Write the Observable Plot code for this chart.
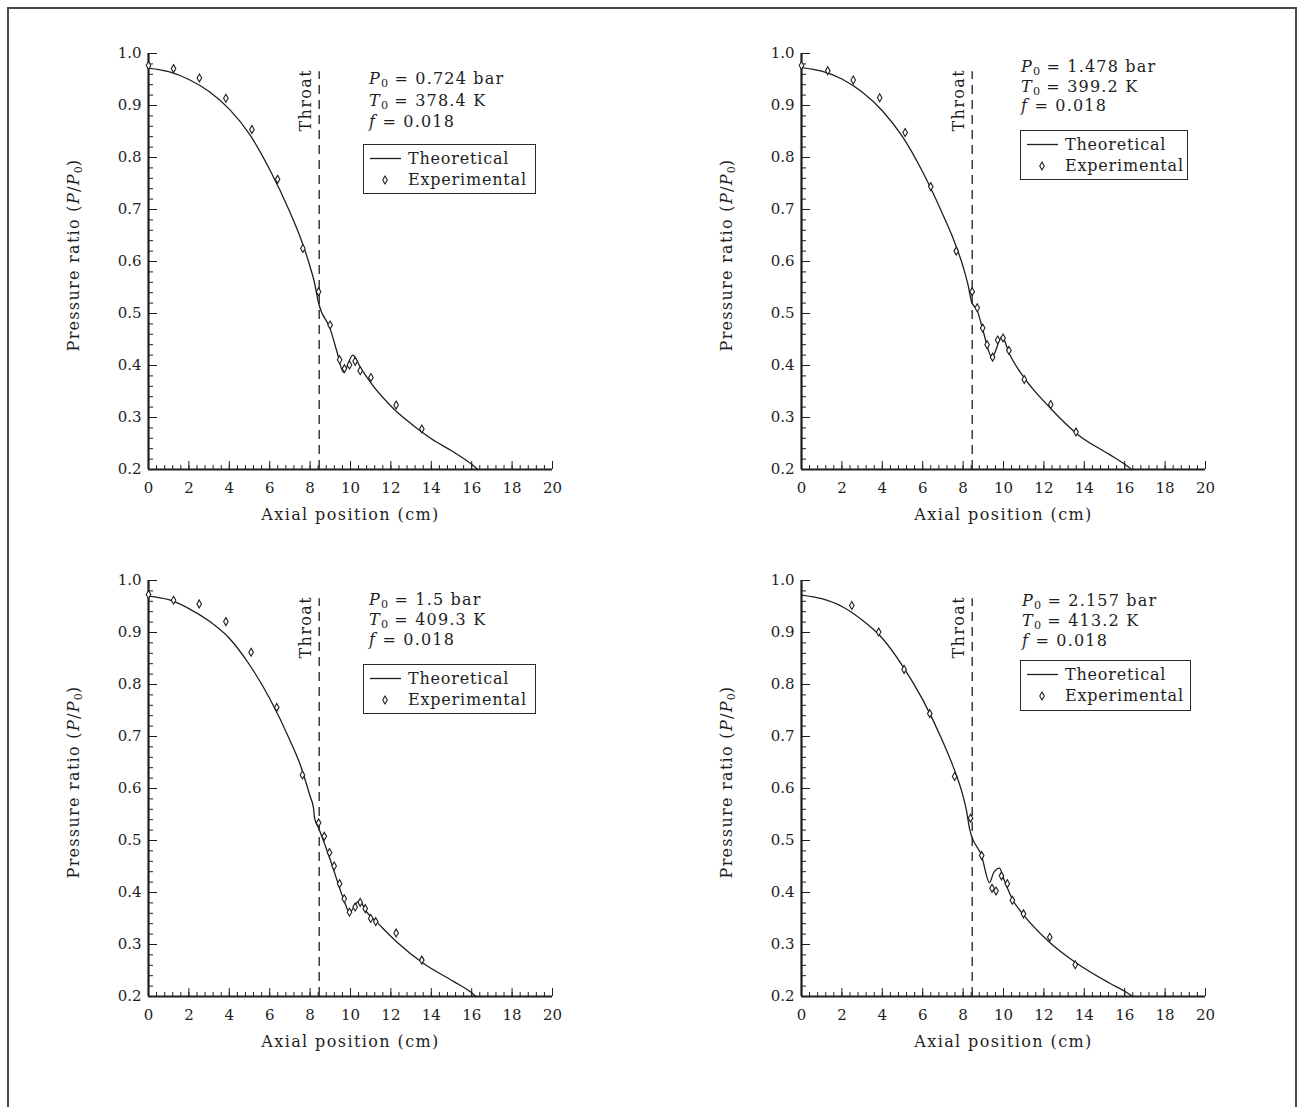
<!DOCTYPE html>
<html>
<head>
<meta charset="utf-8">
<script src="https://cdn.jsdelivr.net/npm/d3@7"></script>
<script src="https://cdn.jsdelivr.net/npm/@observablehq/plot@0.6"></script>
<style>
  html, body { margin: 0; padding: 0; background: #fff; }
  #page { position: relative; width: 1303px; height: 1107px; overflow: hidden; background: #fff;
          font-family: "DejaVu Serif", serif; color: #1e1e1e; }
  #border { position: absolute; left: 7px; top: 7px; width: 1286px; height: 1200px; border: 2px solid #4a4a4a; }
  .panel { position: absolute; }
  .param { position: absolute; font-size: 16px; letter-spacing: 1.2px; white-space: nowrap; line-height: 1; transform: translateY(-50%); }
  .legend { position: absolute; border: 1.5px solid #2a2a2a; background: #fff; box-sizing: border-box; }
  .legend .row { position: absolute; left: 0; font-size: 16px; letter-spacing: 0.8px; white-space: nowrap; line-height: 1; transform: translateY(-50%); }
  .ylab { position: absolute; font-size: 16px; letter-spacing: 1.3px; white-space: nowrap; transform: translate(-50%, -50%) rotate(-90deg); }
  sub { font-size: 0.7em; vertical-align: -0.3em; line-height: 0; letter-spacing: 0; }
</style>
</head>
<body>
<div id="page"><div id="border"></div></div>
<script>
// ---------------- data ----------------
const xTickValues = [0, 2, 4, 6, 8, 10, 12, 14, 16, 18, 20];
const yTickValues = [0.2, 0.3, 0.4, 0.5, 0.6, 0.7, 0.8, 0.9, 1.0];
const throatX = 8.45;
const throatTop = 0.965;

// Panel 1: P0 = 0.724 bar
const p1Params = ["0.724 bar", "378.4 K", "0.018"];
const p1TheoX = [0, 1, 2, 3, 4, 5, 6, 7, 7.5, 8, 8.2, 8.42, 9.0, 9.32, 9.65, 10.12, 10.48, 11.0, 12.0, 12.29, 13.0, 13.6, 14.0, 15.0, 16.0, 16.3];
const p1TheoY = [0.972, 0.965, 0.950, 0.927, 0.893, 0.845, 0.777, 0.695, 0.648, 0.590, 0.562, 0.520, 0.470, 0.428, 0.387, 0.420, 0.397, 0.367, 0.322, 0.311, 0.288, 0.270, 0.259, 0.236, 0.210, 0.200];
const p1ExpX = [0, 1.24, 2.52, 3.83, 5.12, 6.39, 7.64, 8.42, 8.99, 9.46, 9.70, 9.95, 10.23, 10.48, 11.01, 12.26, 13.53];
const p1ExpY = [0.977, 0.971, 0.953, 0.914, 0.854, 0.758, 0.625, 0.542, 0.478, 0.411, 0.394, 0.401, 0.408, 0.390, 0.377, 0.324, 0.278];

// Panel 2: P0 = 1.478 bar
const p2Params = ["1.478 bar", "399.2 K", "0.018"];
const p2TheoX = [0, 1, 2, 3, 4, 5, 6, 7, 7.5, 8, 8.25, 8.42, 8.7, 9.0, 9.43, 9.93, 10.27, 11.03, 12.37, 13.72, 15.24, 16.0, 16.35];
const p2TheoY = [0.973, 0.966, 0.951, 0.926, 0.890, 0.840, 0.772, 0.690, 0.645, 0.590, 0.554, 0.522, 0.506, 0.465, 0.416, 0.456, 0.424, 0.376, 0.316, 0.266, 0.229, 0.210, 0.200];
const p2ExpX = [0, 1.30, 2.56, 3.87, 5.13, 6.40, 7.66, 8.45, 8.70, 8.97, 9.19, 9.46, 9.71, 9.98, 10.27, 11.03, 12.34, 13.59];
const p2ExpY = [0.977, 0.967, 0.949, 0.915, 0.848, 0.744, 0.620, 0.542, 0.511, 0.472, 0.440, 0.416, 0.449, 0.453, 0.429, 0.373, 0.325, 0.272];

// Panel 3: P0 = 1.5 bar
const p3Params = ["1.5 bar", "409.3 K", "0.018"];
const p3TheoX = [0, 1, 2, 3, 4, 5, 6, 7, 7.5, 8, 8.17, 8.22, 8.42, 8.99, 9.65, 9.95, 10.43, 10.81, 11.3, 12.29, 13.6, 15.1, 16.0, 16.2];
const p3TheoY = [0.970, 0.963, 0.946, 0.922, 0.889, 0.838, 0.773, 0.693, 0.647, 0.585, 0.562, 0.543, 0.524, 0.464, 0.388, 0.362, 0.384, 0.362, 0.343, 0.305, 0.264, 0.229, 0.207, 0.200];
const p3ExpX = [0, 1.24, 2.51, 3.83, 5.08, 6.35, 7.62, 8.42, 8.70, 8.96, 9.19, 9.46, 9.69, 9.95, 10.23, 10.48, 10.73, 11.0, 11.25, 12.26, 13.53];
const p3ExpY = [0.973, 0.962, 0.955, 0.921, 0.862, 0.756, 0.626, 0.534, 0.508, 0.477, 0.451, 0.417, 0.388, 0.362, 0.372, 0.381, 0.369, 0.350, 0.344, 0.322, 0.270];

// Panel 4: P0 = 2.157 bar
const p4Params = ["2.157 bar", "413.2 K", "0.018"];
const p4TheoX = [0, 1, 2, 3, 4, 5, 6, 7, 7.5, 8, 8.16, 8.33, 8.92, 9.31, 9.51, 9.8, 10.02, 10.44, 11.03, 12.29, 13.55, 15.24, 16.0, 16.4];
const p4TheoY = [0.972, 0.965, 0.950, 0.924, 0.889, 0.836, 0.771, 0.690, 0.643, 0.585, 0.559, 0.521, 0.470, 0.419, 0.438, 0.447, 0.425, 0.387, 0.355, 0.304, 0.266, 0.226, 0.210, 0.200];
const p4ExpX = [2.49, 3.82, 5.08, 6.35, 7.58, 8.37, 8.92, 9.43, 9.63, 9.90, 10.19, 10.44, 10.99, 12.29, 13.55];
const p4ExpY = [0.952, 0.901, 0.829, 0.744, 0.623, 0.543, 0.471, 0.408, 0.403, 0.432, 0.417, 0.385, 0.359, 0.314, 0.261];

// ---------------- layout (positions only) ----------------
const M = {left: 100, right: 30, top: 20, bottom: 70};
const FW = 404, FH = 416;
const panels = [
  {frame: [148, 53],  params: p1Params, theoX: p1TheoX, theoY: p1TheoY, expX: p1ExpX, expY: p1ExpY,
   paramPos: [221, 26, 21.5], legendPos: [215, 91, 173, 50]},
  {frame: [801, 53],  params: p2Params, theoX: p2TheoX, theoY: p2TheoY, expX: p2ExpX, expY: p2ExpY,
   paramPos: [220, 14, 19.5], legendPos: [219, 77, 168, 50]},
  {frame: [148, 580], params: p3Params, theoX: p3TheoX, theoY: p3TheoY, expX: p3ExpX, expY: p3ExpY,
   paramPos: [221, 20, 20], legendPos: [215, 84, 173, 50]},
  {frame: [801, 580], params: p4Params, theoX: p4TheoX, theoY: p4TheoY, expX: p4ExpX, expY: p4ExpY,
   paramPos: [221, 21, 20], legendPos: [219, 80, 171, 51]}
];

const ink = "#1e1e1e";
const xMinor = d3.range(0, 20.001, 0.4);
const yMinor = d3.range(0.2, 1.0001, 0.02);

function makePanel(p) {
  const theo = p.theoX.map((x, i) => ({x, y: p.theoY[i]}));
  const exp = p.expX.map((x, i) => ({x, y: p.expY[i]}));
  const svg = Plot.plot({
    width: M.left + FW + M.right,
    height: M.top + FH + M.bottom,
    marginLeft: M.left, marginRight: M.right, marginTop: M.top, marginBottom: M.bottom,
    x: {domain: [0, 20]},
    y: {domain: [0.2, 1.0]},
    style: {fontFamily: "DejaVu Serif, serif", fontSize: "15px", color: ink, background: "transparent", overflow: "visible"},
    marks: [
      Plot.axisX(xMinor, {tickSize: -4, tickFormat: () => "", label: null, stroke: ink}),
      Plot.axisX(xTickValues, {tickSize: -8, tickPadding: 21, tickFormat: d => String(d), label: null, stroke: ink, fill: ink, fontSize: 15}),
      Plot.axisY(yMinor, {tickSize: -5, tickFormat: () => "", label: null, stroke: ink}),
      Plot.axisY(yTickValues, {tickSize: -9, tickPadding: 16, tickFormat: d3.format(".1f"), label: null, stroke: ink, fill: ink, fontSize: 15}),
      Plot.ruleY([0.2], {stroke: ink, strokeWidth: 2}),
      Plot.ruleX([0], {stroke: ink, strokeWidth: 2.2}),
      Plot.ruleX([throatX], {y1: 0.2, y2: throatTop, stroke: ink, strokeWidth: 1.3, strokeDasharray: "9,6"}),
      Plot.text(["Throat"], {x: throatX, y: 0.91, rotate: -90, dx: -13, fontSize: 16, fill: ink}),
      Plot.text(["Axial position (cm)"], {frameAnchor: "bottom", dy: 50, fontSize: 16, fill: ink}),
      Plot.line(theo, {x: "x", y: "y", curve: "monotone-x", stroke: ink, strokeWidth: 1.3}),
      Plot.dot(exp, {x: "x", y: "y", symbol: "diamond", r: 2.4, fill: "white", stroke: ink, strokeWidth: 1.1})
    ]
  });
  svg.querySelectorAll('g[aria-label="text"]').forEach(g => { g.style.letterSpacing = "1.4px"; });
  return svg;
}

const page = document.getElementById("page");
for (const p of panels) {
  const [fx, fy] = p.frame;
  const div = document.createElement("div");
  div.className = "panel";
  div.style.left = (fx - M.left) + "px";
  div.style.top = (fy - M.top) + "px";
  div.appendChild(makePanel(p));
  page.appendChild(div);

  // y axis label
  const yl = document.createElement("div");
  yl.className = "ylab";
  yl.style.left = (fx - 75) + "px";
  yl.style.top = (fy + 202) + "px";
  yl.innerHTML = 'Pressure ratio (<i>P</i>/<i>P</i><sub>0</sub>)';
  page.appendChild(yl);

  // parameters
  const [px, py, ps] = p.paramPos;
  const lines = [
    '<i>P</i><sub>0</sub> = ' + p.params[0],
    '<i>T</i><sub>0</sub> = ' + p.params[1],
    '<i>f</i> = ' + p.params[2]
  ];
  lines.forEach((html, i) => {
    const d = document.createElement("div");
    d.className = "param";
    d.style.left = (fx + px) + "px";
    d.style.top = (fy + py + i * ps) + "px";
    d.innerHTML = html;
    page.appendChild(d);
  });

  // legend
  const [lx, ly, lw, lh] = p.legendPos;
  const lg = document.createElement("div");
  lg.className = "legend";
  lg.style.left = (fx + lx) + "px";
  lg.style.top = (fy + ly) + "px";
  lg.style.width = lw + "px";
  lg.style.height = lh + "px";
  lg.innerHTML =
    '<svg width="' + lw + '" height="' + lh + '" style="position:absolute;left:0;top:0">' +
    '<line x1="6" x2="37" y1="13.5" y2="13.5" stroke="' + ink + '" stroke-width="1.3"/>' +
    '<path d="' + d3.symbol(d3.symbolDiamond, Math.PI * 2.4 * 2.4)() + '" transform="translate(21,35)" fill="white" stroke="' + ink + '" stroke-width="1.1"/>' +
    '</svg>' +
    '<div class="row" style="left:44px;top:13.5px">Theoretical</div>' +
    '<div class="row" style="left:44px;top:35px">Experimental</div>';
  page.appendChild(lg);
}
</script>
</body>
</html>
